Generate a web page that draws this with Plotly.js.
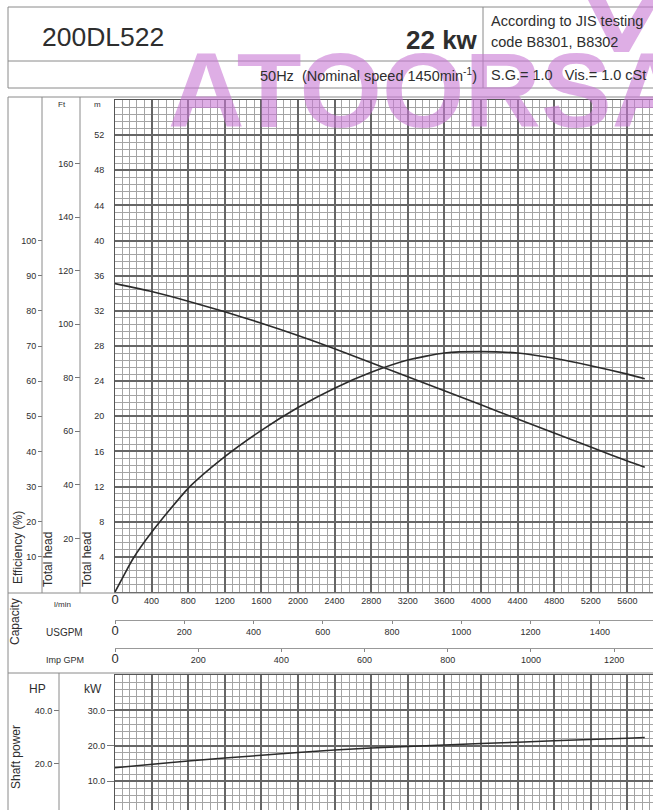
<!DOCTYPE html>
<html>
<head>
<meta charset="utf-8">
<script src="https://cdn.plot.ly/plotly-3.0.1.min.js"></script>
<style>
html,body{margin:0;padding:0;overflow:hidden;background:#fff;}
#chart{width:653px;height:810px;}
</style>
</head>
<body>
<div id="chart"></div>
<script>
// ---- data ----
const headFlow = [0, 400, 800, 1200, 1600, 2000, 2400, 2800, 3200, 3600, 4000, 4400, 4800, 5200, 5600, 5790];
const headM    = [35.1, 34.2, 33.1, 31.9, 30.6, 29.2, 27.7, 26.1, 24.5, 22.9, 21.3, 19.7, 18.1, 16.5, 14.9, 14.2];

const effFlow = [0, 100, 200, 400, 800, 1200, 1600, 2000, 2400, 2800, 3200, 3600, 4000, 4400, 4800, 5200, 5600, 5790];
const effPct  = [0, 4.9, 9.6, 17.0, 29.5, 38.5, 46.0, 52.5, 58.0, 62.5, 66.0, 68.0, 68.4, 68.0, 66.5, 64.4, 62.0, 60.7];

const powerFlow = [0, 800, 1600, 2400, 3200, 4000, 4800, 5600, 5790];
const powerKW   = [13.8, 15.7, 17.3, 18.8, 19.8, 20.6, 21.4, 22.1, 22.3];

const lpmTicks   = [0, 400, 800, 1200, 1600, 2000, 2400, 2800, 3200, 3600, 4000, 4400, 4800, 5200, 5600];
const usgpmTicks = [0, 200, 400, 600, 800, 1000, 1200, 1400];
const impTicks   = [0, 200, 400, 600, 800, 1000, 1200];
const headTicks  = [4, 8, 12, 16, 20, 24, 28, 32, 36, 40, 44, 48, 52];
const ftTicks    = [20, 40, 60, 80, 100, 120, 140, 160];
const effTicks   = [10, 20, 30, 40, 50, 60, 70, 80, 90, 100];
const kwTicks    = [10, 20, 30];
const hpTicks    = [20, 40];

// unit factors
const L_PER_USGAL = 3.78541, L_PER_IMPGAL = 4.54609, FT_PER_M = 3.28084, KW_PER_HP = 0.7457;

// ---- geometry helpers (pixels -> paper) ----
const W = 653, H = 810;
const px = x => x / W;
const py = y => 1 - y / H;

const qMax = 5880;
const headMax = 56;
const kwMin = 1.83, kwMax = 40;

const TXT = '#2e2e2e';
const FONT = 'Liberation Sans, Arial, sans-serif';
const NARROW = 'Liberation Sans Narrow, Liberation Sans, Arial, sans-serif';
const MAJ = '#666666', MIN = '#a4a4a4';
const WM = 'rgba(200,120,212,0.6)';

const zeroBig = v => v === 0 ? '<span style="font-size:13px">0</span>' : String(v);

const traces = [
  {x: headFlow, y: headM, xaxis: 'x', yaxis: 'y', mode: 'lines', line: {color: '#2b2b2b', width: 1.6, shape: 'spline', smoothing: 0.6}, hoverinfo: 'skip'},
  {x: effFlow, y: effPct, xaxis: 'x', yaxis: 'y2', mode: 'lines', line: {color: '#2b2b2b', width: 1.6, shape: 'spline', smoothing: 0.6}, hoverinfo: 'skip'},
  {x: [], y: [], xaxis: 'x', yaxis: 'y3', mode: 'lines'},
  {x: [], y: [], xaxis: 'x2', yaxis: 'y', mode: 'lines'},
  {x: [], y: [], xaxis: 'x4', yaxis: 'y', mode: 'lines'},
  {x: powerFlow, y: powerKW, xaxis: 'x3', yaxis: 'y4', mode: 'lines', line: {color: '#2b2b2b', width: 1.5, shape: 'spline', smoothing: 0.6}, hoverinfo: 'skip'},
  {x: [], y: [], xaxis: 'x3', yaxis: 'y5', mode: 'lines'}
];

const gridX = {
  range: [0, qMax], tickmode: 'array', tickvals: lpmTicks, ticks: '',
  showgrid: true, gridcolor: MAJ, gridwidth: 2, zeroline: false,
  showline: true, linecolor: '#555', linewidth: 1, mirror: true,
  minor: {tickmode: 'linear', tick0: 0, dtick: 80, showgrid: true, gridcolor: MIN, gridwidth: 1, ticks: ''}
};

const layout = {
  width: W, height: H,
  margin: {l: 0, r: 0, t: 0, b: 0, pad: 0},
  paper_bgcolor: '#fff', plot_bgcolor: '#fff',
  showlegend: false,
  font: {family: FONT, color: TXT},
  xaxis: Object.assign({}, gridX, {
    domain: [px(115), 1], anchor: 'y',
    ticktext: lpmTicks.map(zeroBig),
    showticklabels: true, tickfont: {size: 9, family: NARROW, color: TXT}
  }),
  yaxis: {
    domain: [py(592), py(100)], anchor: 'x', range: [0, headMax],
    tickmode: 'array', tickvals: headTicks, ticks: '', ticklabelstandoff: 8,
    tickfont: {size: 9, family: NARROW, color: TXT},
    showgrid: true, gridcolor: MAJ, gridwidth: 2, zeroline: false,
    showline: true, linecolor: '#555', mirror: true,
    minor: {tickmode: 'linear', tick0: 0, dtick: 0.8, showgrid: true, gridcolor: MIN, gridwidth: 1, ticks: ''}
  },
  yaxis2: {
    overlaying: 'y', anchor: 'free', position: px(42), side: 'left',
    range: [0, headMax * 2.5], tickmode: 'array', tickvals: effTicks,
    ticks: 'outside', ticklen: 4, tickcolor: '#777', tickwidth: 1,
    tickfont: {size: 9, family: NARROW, color: TXT},
    showgrid: false, zeroline: false, showline: false
  },
  yaxis3: {
    overlaying: 'y', anchor: 'free', position: px(80), side: 'left',
    range: [0, headMax * FT_PER_M], tickmode: 'array', tickvals: ftTicks,
    ticks: 'outside', ticklen: 5, tickcolor: '#777', tickwidth: 1,
    tickfont: {size: 9, family: NARROW, color: TXT},
    showgrid: false, zeroline: false, showline: false
  },
  xaxis2: {
    overlaying: 'x', anchor: 'free', position: py(620), side: 'bottom',
    range: [0, qMax / L_PER_USGAL], tickmode: 'array', tickvals: usgpmTicks,
    ticktext: usgpmTicks.map(zeroBig),
    ticks: 'outside', ticklen: 3, tickcolor: '#888',
    tickfont: {size: 9, family: NARROW, color: TXT},
    showline: true, linecolor: '#999', linewidth: 1, showgrid: false, zeroline: false
  },
  xaxis4: {
    overlaying: 'x', anchor: 'free', position: py(648), side: 'bottom',
    range: [0, qMax / L_PER_IMPGAL], tickmode: 'array', tickvals: impTicks,
    ticktext: impTicks.map(zeroBig),
    ticks: 'outside', ticklen: 3, tickcolor: '#888',
    tickfont: {size: 9, family: NARROW, color: TXT},
    showline: true, linecolor: '#999', linewidth: 1, showgrid: false, zeroline: false
  },
  xaxis3: Object.assign({}, gridX, {
    domain: [px(115), 1], anchor: 'y4', showticklabels: false
  }),
  yaxis4: {
    domain: [0, py(675)], anchor: 'x3', range: [kwMin, kwMax],
    tickmode: 'array', tickvals: kwTicks, ticktext: kwTicks.map(v => v.toFixed(1)),
    ticks: 'outside', ticklen: 7, tickcolor: '#777',
    tickfont: {size: 9, family: NARROW, color: TXT},
    showgrid: true, gridcolor: MAJ, gridwidth: 2, zeroline: false,
    showline: true, linecolor: '#555', mirror: true,
    minor: {tickmode: 'linear', tick0: 0, dtick: 2, showgrid: true, gridcolor: MIN, gridwidth: 1, ticks: ''}
  },
  yaxis5: {
    overlaying: 'y4', anchor: 'free', position: px(59), side: 'left',
    range: [kwMin / KW_PER_HP, kwMax / KW_PER_HP], tickmode: 'array', tickvals: hpTicks,
    ticktext: hpTicks.map(v => v.toFixed(1)),
    ticks: 'outside', ticklen: 5, tickcolor: '#777',
    tickfont: {size: 9, family: NARROW, color: TXT},
    showgrid: false, zeroline: false, showline: false
  },
  shapes: [],
  annotations: []
};

// frame lines
const LC = '#8a8a8a';
function hline(y, x0, x1) { layout.shapes.push({type: 'line', xref: 'paper', yref: 'paper', x0: px(x0), x1: px(x1), y0: py(y), y1: py(y), line: {color: LC, width: 1}}); }
function vline(x, y0, y1) { layout.shapes.push({type: 'line', xref: 'paper', yref: 'paper', x0: px(x), x1: px(x), y0: py(y0), y1: py(y1), line: {color: LC, width: 1}}); }
// header
hline(7, 8, 653); hline(61, 8, 653); hline(88, 8, 653);
vline(8, 7, 88); vline(483, 7, 88);
// chart frame
hline(97, 8, 653); vline(8, 97, 810);
vline(42, 97, 593); vline(80, 97, 593);
hline(593, 8, 653); hline(673, 8, 653);
vline(59, 673, 810);

// watermark
layout.annotations.push({xref: 'paper', yref: 'paper', x: px(166), y: py(90), xanchor: 'left', yanchor: 'middle',
  text: '<b>ATOORSAN</b>', showarrow: false, font: {size: 106, family: FONT, color: WM}});
function P(x, y) { return px(x).toFixed(4) + ',' + py(y).toFixed(4); }
layout.shapes.push({type: 'path', xref: 'paper', yref: 'paper', layer: 'above',
  path: 'M' + P(588, 0) + ' L' + P(606, 0) + ' L' + P(622, 34) + ' L' + P(642, 0) + ' L' + P(653, 0) + ' L' + P(653, 10) + ' L' + P(629, 52) + ' L' + P(614, 52) + ' Z',
  fillcolor: WM, line: {width: 0}});

function ann(text, x, y, opts) {
  layout.annotations.push(Object.assign({xref: 'paper', yref: 'paper', x: px(x), y: py(y), text: text, showarrow: false,
    xanchor: 'center', yanchor: 'middle', font: {size: 11, color: TXT, family: FONT}}, opts || {}));
}
// header texts
ann('200DL522', 40, 37, {xanchor: 'left', font: {size: 26.5, color: TXT, family: FONT}});
ann('<b>22 kw</b>', 480, 40, {xanchor: 'right', font: {size: 26, color: TXT, family: FONT}});
ann('According to JIS testing', 489, 21, {xanchor: 'left', font: {size: 14.5, color: TXT, family: FONT}});
ann('code B8301, B8302', 489, 42, {xanchor: 'left', font: {size: 14.5, color: TXT, family: FONT}});
ann('50Hz  (Nominal speed 1450min<sup>-1</sup>)', 479, 75, {xanchor: 'right', font: {size: 14.5, color: TXT, family: FONT}});
ann('S.G.= 1.0   Vis.= 1.0 cSt', 489, 75, {xanchor: 'left', font: {size: 14.5, color: TXT, family: FONT}});

// column headers / titles
ann('Ft', 62, 104, {font: {size: 8, color: TXT, family: FONT}});
ann('m', 97, 104, {font: {size: 8, color: TXT, family: FONT}});
ann('Efficiency (%)', 18, 548, {textangle: -90, font: {size: 12, color: TXT, family: FONT}});
ann('Total head', 48, 560, {textangle: -90, font: {size: 12, color: TXT, family: FONT}});
ann('Total head', 87, 560, {textangle: -90, font: {size: 12, color: TXT, family: FONT}});
ann('Capacity', 15, 622, {textangle: -90, font: {size: 12, color: TXT, family: FONT}});
ann('l/min', 62, 604, {font: {size: 8, color: TXT, family: NARROW}});
ann('USGPM', 64, 632, {font: {size: 10, color: TXT, family: FONT}});
ann('Imp GPM', 65, 660, {font: {size: 9, color: TXT, family: NARROW}});
ann('HP', 37, 689, {font: {size: 12, color: TXT, family: FONT}});
ann('kW', 93, 689, {font: {size: 12, color: TXT, family: FONT}});
ann('Shaft power', 16, 757, {textangle: -90, font: {size: 12, color: TXT, family: FONT}});

Plotly.newPlot('chart', traces, layout, {staticPlot: true, displayModeBar: false});
</script>
</body>
</html>
